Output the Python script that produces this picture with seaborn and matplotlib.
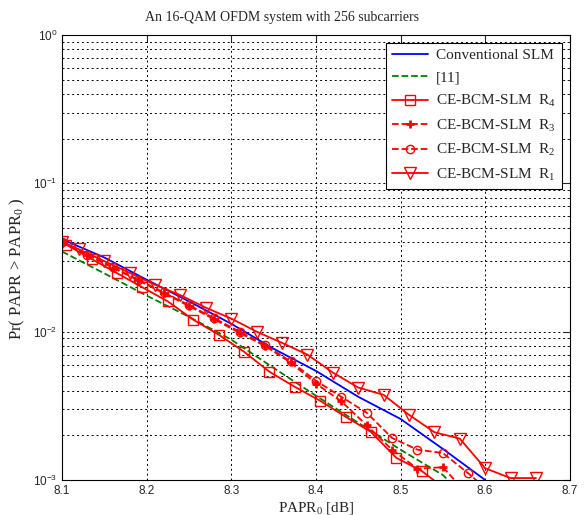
import numpy as np
import matplotlib
matplotlib.use("Agg")
import matplotlib.pyplot as plt
import seaborn as sns

# PAPR0 [dB] grid and CCDF values
conv_x = [8.10, 8.15, 8.20, 8.25, 8.30, 8.35, 8.40, 8.45, 8.50, 8.55, 8.60]
conv_y = [0.042, 0.0316, 0.0224, 0.0160, 0.0113, 0.00767, 0.00544, 0.00364, 0.00258, 0.00162, 0.00100]

ref11_x = [8.10, 8.15, 8.20, 8.25, 8.30, 8.35, 8.40, 8.45, 8.50, 8.55, 8.56]
ref11_y = [0.0347, 0.0247, 0.0175, 0.0126, 0.00883, 0.0057, 0.0037, 0.00243, 0.0016, 0.00108, 0.00095]

r4_x = [8.105, 8.135, 8.165, 8.195, 8.225, 8.255, 8.285, 8.315, 8.345, 8.375, 8.405, 8.435,
        8.465, 8.495, 8.525, 8.555]
r4_y = [0.0386, 0.0309, 0.0248, 0.0199, 0.0160, 0.01205, 0.00955, 0.00733, 0.00537, 0.00425,
        0.00342, 0.00267, 0.00211, 0.00141, 0.00115, 0.00085]

r3_x = [8.10, 8.13, 8.16, 8.19, 8.22, 8.25, 8.28, 8.31, 8.34, 8.37, 8.40, 8.43, 8.46, 8.49,
        8.52, 8.55, 8.58]
r3_y = [0.0400, 0.0330, 0.0270, 0.0222, 0.0182, 0.0149, 0.0121, 0.0098, 0.0080, 0.0062,
        0.00447, 0.00339, 0.00234, 0.00160, 0.00119, 0.00122, 0.00079]

r2_x = [8.10, 8.13, 8.16, 8.19, 8.22, 8.25, 8.28, 8.31, 8.34, 8.37, 8.40, 8.43, 8.46, 8.49,
        8.52, 8.55, 8.58, 8.61]
r2_y = [0.0400, 0.0331, 0.0272, 0.0224, 0.0184, 0.0151, 0.0123, 0.0100, 0.00813, 0.00631,
        0.00467, 0.00364, 0.00284, 0.00192, 0.00160, 0.00152, 0.00111, 0.00079]

r1_x = [8.10, 8.12, 8.15, 8.18, 8.21, 8.24, 8.27, 8.30, 8.33, 8.36, 8.39, 8.42, 8.45, 8.48,
        8.51, 8.54, 8.57, 8.60, 8.63, 8.66]
r1_y = [0.0405, 0.0359, 0.0299, 0.0249, 0.0207, 0.0176, 0.0145, 0.01225, 0.0100, 0.0084,
        0.0070, 0.0053, 0.0042, 0.00375, 0.00275, 0.0021, 0.0019, 0.0012, 0.00103, 0.00103]

x_ticks = [8.1, 8.2, 8.3, 8.4, 8.5, 8.6, 8.7]

sns.set_style("white", {"xtick.direction": "in", "ytick.direction": "in",
                        "axes.edgecolor": "black"})
plt.rcParams["font.family"] = ["Liberation Serif", "DejaVu Serif"]
plt.rcParams["mathtext.fontset"] = "custom"
plt.rcParams["mathtext.rm"] = "Liberation Serif"
plt.rcParams["mathtext.it"] = "Liberation Serif:italic"

fig, ax = plt.subplots(figsize=(5.85, 5.15), dpi=100)
fig.subplots_adjust(left=0.106, right=0.974, top=0.932, bottom=0.068)

sns.lineplot(x=conv_x, y=conv_y, ax=ax, color="blue", lw=1.3, label="Conventional SLM")
sns.lineplot(x=ref11_x, y=ref11_y, ax=ax, color="green", lw=1.3, linestyle="--", label="[11]")
sns.lineplot(x=r4_x, y=r4_y, ax=ax, color="red", lw=1.3, marker="s", ms=7,
             mfc="none", mec="red", mew=1.0, label="CE-BCM-SLM  R$_4$")
sns.lineplot(x=r3_x, y=r3_y, ax=ax, color="red", lw=1.3, linestyle="--", marker="+", ms=6,
             mec="red", mew=2.0, label="CE-BCM-SLM  R$_3$")
sns.lineplot(x=r2_x, y=r2_y, ax=ax, color="red", lw=1.3, linestyle="--", marker="o", ms=6,
             mfc="none", mec="red", mew=1.0, label="CE-BCM-SLM  R$_2$")
sns.lineplot(x=r1_x, y=r1_y, ax=ax, color="red", lw=1.3, marker="v", ms=8,
             mfc="none", mec="red", mew=1.0, label="CE-BCM-SLM  R$_1$")

ax.set_yscale("log")
ax.set_xlim(8.1, 8.7)
ax.set_ylim(1e-3, 1)
ax.set_xticks(x_ticks)
ax.set_xticklabels([f"{t:.1f}" for t in x_ticks])

ax.grid(True, which="major", axis="both", color="black", linestyle=(0, (2, 3)), lw=0.7)
ax.grid(True, which="minor", axis="y", color="black", linestyle=(0, (2, 3)), lw=0.7)
ax.tick_params(which="both", direction="in", top=True, right=True, labelsize=8.5)
ax.tick_params(which="major", length=4)
ax.tick_params(which="minor", length=2)
for lab in ax.get_xticklabels() + ax.get_yticklabels():
    lab.set_family(["Liberation Sans", "DejaVu Sans"])
for s in ax.spines.values():
    s.set_linewidth(0.8)

ax.set_title("An 16-QAM OFDM system with 256 subcarriers", fontsize=10, pad=10, x=0.433)
ax.set_xlabel("PAPR$_0$ [dB]", fontsize=11)
ax.xaxis.set_label_coords(0.5, -0.045)
ax.set_ylabel("Pr( PAPR > PAPR$_0$ )", fontsize=12)
ax.yaxis.set_label_coords(-0.069, 0.474)

leg = ax.legend(loc="upper right", fontsize=11, frameon=True, fancybox=False,
                edgecolor="black", framealpha=1, handlelength=2.4, labelspacing=0.55,
                borderaxespad=0.5, handletextpad=0.5)
leg.get_frame().set_linewidth(0.8)

plt.savefig("out.png", dpi=100)
